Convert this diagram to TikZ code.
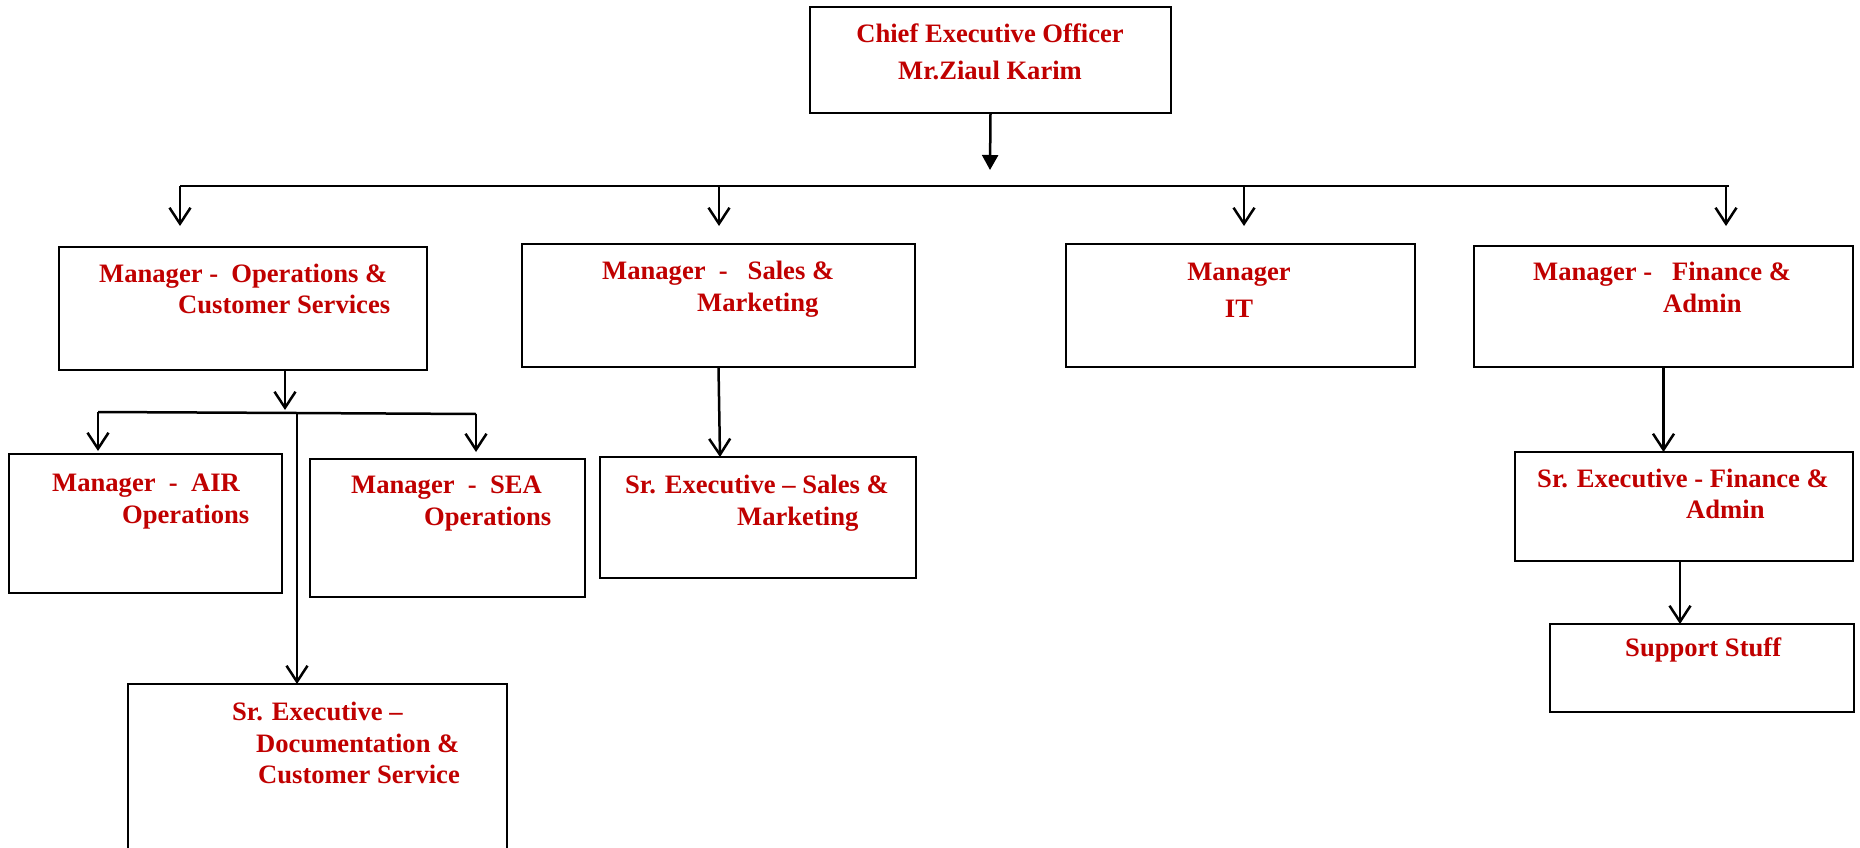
\documentclass[tikz,border=0pt]{standalone}
\usepackage{fontspec}
\setmainfont{Liberation Serif}
\usetikzlibrary{arrows.meta}
\definecolor{txtred}{HTML}{C00000}
\begin{document}
\begin{tikzpicture}[x=1pt,y=-1pt,
  box/.style={draw=black, line width=2.6pt, rectangle, inner sep=0pt, outer sep=0pt},
  txt/.style={text=txtred, font=\fontsize{26.6}{32}\selectfont\bfseries, inner sep=0pt, anchor=base west},
  ctxt/.style={txt, anchor=base},
  conn/.style={draw=black, line width=2.5pt},
  arr/.style={conn, -{Straight Barb[length=16pt,width=21pt]}},
  farr/.style={conn, -{Triangle[length=15pt,width=16pt]}}]
\useasboundingbox (0,0) rectangle (1860,848);
\clip (0,0) rectangle (1860,848);
\fill[white] (0,0) rectangle (1860,848);

% boxes
\node[box, anchor=north west, minimum width=361pt, minimum height=106pt] (ceo) at (810,7) {};
\node[box, anchor=north west, minimum width=368pt, minimum height=123pt] (ops) at (59,247) {};
\node[box, anchor=north west, minimum width=393pt, minimum height=123pt] (sales) at (522,244) {};
\node[box, anchor=north west, minimum width=349pt, minimum height=123pt] (it) at (1066,244) {};
\node[box, anchor=north west, minimum width=379pt, minimum height=121pt] (fin) at (1474,246) {};
\node[box, anchor=north west, minimum width=273pt, minimum height=139pt] (air) at (9,454) {};
\node[box, anchor=north west, minimum width=275pt, minimum height=138pt] (sea) at (310,459) {};
\node[box, anchor=north west, minimum width=379pt, minimum height=200pt] (doc) at (128,684) {};
\node[box, anchor=north west, minimum width=316pt, minimum height=121pt] (srsales) at (600,457) {};
\node[box, anchor=north west, minimum width=338pt, minimum height=109pt] (srfin) at (1515,452) {};
\node[box, anchor=north west, minimum width=304pt, minimum height=88pt] (support) at (1550,624) {};

% texts
\node[ctxt] (ceo1) at (990,43) {Chief Executive Officer};
\node[ctxt] (ceo2) at (990,80) {Mr.Ziaul Karim};
\node[txt] (ops1) at (99,282) {Manager -\ \ Operations \&};
\node[txt] (ops2) at (178,313) {Customer Services};
\node[txt] (sales1) at (602,279) {Manager\ \ -\ \ \ Sales \&};
\node[txt] (sales2) at (697,311) {Marketing};
\node[ctxt] (it1) at (1239,280) {Manager};
\node[ctxt] (it2) at (1239,317) {IT};
\node[txt] (fin1) at (1533,280) {Manager -\ \ \ Finance \&};
\node[txt] (fin2) at (1663,312) {Admin};
\node[txt] (air1) at (52,491) {Manager\ \ -\ \ AIR};
\node[txt] (air2) at (122,523) {Operations};
\node[txt] (sea1) at (351,493) {Manager\ \ -\ \ SEA};
\node[txt] (sea2) at (424,525) {Operations};
\node[txt] (doc1) at (232,720) {Sr. Executive --};
\node[txt] (doc2) at (256,752) {Documentation \&};
\node[txt] (doc3) at (258,783) {Customer Service};
\node[txt] (srs1) at (625,493) {Sr. Executive -- Sales \&};
\node[txt] (srs2) at (737,525) {Marketing};
\node[txt] (srf1) at (1537,487) {Sr. Executive - Finance \&};
\node[txt] (srf2) at (1686,518) {Admin};
\node[txt] (sup1) at (1625,656) {Support Stuff};

% connector coordinates
\coordinate (ceoTip) at (990,170);
\coordinate (busL) at (180,186);
\coordinate (busR) at (1729,186);
\coordinate (b1) at (180,186);  \coordinate (t1) at (180,226);
\coordinate (b2) at (719,186);  \coordinate (t2) at (719,226);
\coordinate (b3) at (1244,186); \coordinate (t3) at (1244,226);
\coordinate (b4) at (1726,186); \coordinate (t4) at (1726,226);
\coordinate (opsTip) at (285,410);
\coordinate (subL) at (98,412);
\coordinate (subR) at (476,414);
\coordinate (subM) at (297,413);
\coordinate (airTip) at (98,451);
\coordinate (seaTip) at (476,452);
\coordinate (salesTip) at (720,457);
\coordinate (finA) at (1680,0);

% connectors
\draw[farr] (ceo.south) -- (ceoTip);
\draw[conn] (busL) -- (busR);
\draw[arr] (b1) -- (t1);
\draw[arr] (b2) -- (t2);
\draw[arr] (b3) -- (t3);
\draw[arr] (b4) -- (t4);
\draw[arr] (ops.south -| opsTip) -- (opsTip);
\draw[conn] (subL) -- (subM) -- (subR);
\draw[arr] (subL) -- (airTip);
\draw[arr] (subR) -- (seaTip);
\draw[arr] (subM) -- (doc.north -| subM);
\draw[arr] (sales.south) -- (salesTip);
\draw[arr] (fin.south) -- (srfin.north -| fin.south);
\draw[arr] (srfin.south -| finA) -- (support.north -| finA);
\end{tikzpicture}
\end{document}
